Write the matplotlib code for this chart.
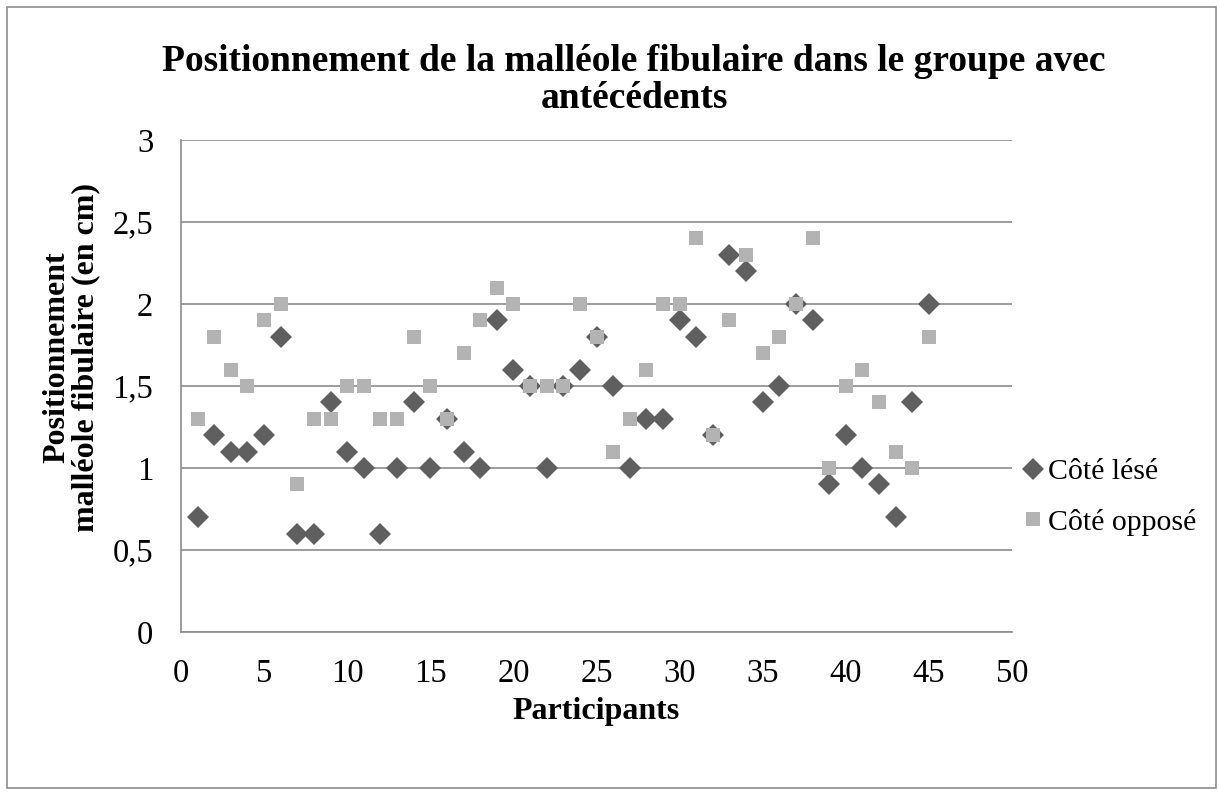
import matplotlib
matplotlib.use("Agg")
import matplotlib.pyplot as plt
from matplotlib.patches import Rectangle
from matplotlib.ticker import FuncFormatter

participants = list(range(1, 46))
cote_lese = [0.7, 1.2, 1.1, 1.1, 1.2, 1.8, 0.6, 0.6, 1.4, 1.1,
             1.0, 0.6, 1.0, 1.4, 1.0, 1.3, 1.1, 1.0, 1.9, 1.6,
             1.5, 1.0, 1.5, 1.6, 1.8, 1.5, 1.0, 1.3, 1.3, 1.9,
             1.8, 1.2, 2.3, 2.2, 1.4, 1.5, 2.0, 1.9, 0.9, 1.2,
             1.0, 0.9, 0.7, 1.4, 2.0]
cote_oppose = [1.3, 1.8, 1.6, 1.5, 1.9, 2.0, 0.9, 1.3, 1.3, 1.5,
               1.5, 1.3, 1.3, 1.8, 1.5, 1.3, 1.7, 1.9, 2.1, 2.0,
               1.5, 1.5, 1.5, 2.0, 1.8, 1.1, 1.3, 1.6, 2.0, 2.0,
               2.4, 1.2, 1.9, 2.3, 1.7, 1.8, 2.0, 2.4, 1.0, 1.5,
               1.6, 1.4, 1.1, 1.0, 1.8]
x_ticks = [0, 5, 10, 15, 20, 25, 30, 35, 40, 45, 50]
y_ticks = [0, 0.5, 1, 1.5, 2, 2.5, 3]

plt.rcParams['font.family'] = ['Liberation Serif', 'DejaVu Serif']

W, H = 1219, 792
fig = plt.figure(figsize=(W / 100, H / 100), dpi=100)
ax = fig.add_axes([181 / W, 1 - 632 / H, (1012 - 181) / W, (632 - 140) / H])

fig.patches.append(Rectangle((7 / W, 4 / H), (1216 - 7) / W, (788 - 7) / H,
                             transform=fig.transFigure, fill=False,
                             edgecolor='#8c8c8c', linewidth=1.2))

ax.plot(participants, cote_lese, linestyle='none', marker='D', markersize=11,
        color='#5f5f5f', markeredgewidth=0, label='Côté lésé', zorder=3)
ax.plot(participants, cote_oppose, linestyle='none', marker='s', markersize=10.5,
        color='#b3b3b3', markeredgewidth=0, label='Côté opposé', zorder=4)

ax.set_xlim(0, 50)
ax.set_ylim(0, 3)
ax.set_xticks(x_ticks)
ax.set_yticks(y_ticks)
ax.yaxis.set_major_formatter(FuncFormatter(lambda v, p: ('%g' % v).replace('.', ',')))
ax.tick_params(length=0, labelsize=23.5)
ax.tick_params(axis='x', pad=19)
ax.tick_params(axis='y', pad=20)
ax.grid(axis='y', color='#8c8c8c', linewidth=1.2)
ax.set_axisbelow(True)
for s in ['top', 'right']:
    ax.spines[s].set_visible(False)
for s in ['left', 'bottom']:
    ax.spines[s].set_color('#8c8c8c')
    ax.spines[s].set_linewidth(1.2)

ax.set_xlabel('Participants', fontsize=23, fontweight='bold', labelpad=6)
fig.text(71 / W, 1 - 357 / H, 'Positionnement\nmalléole fibulaire (en cm)',
         rotation=90, ha='center', va='center', fontsize=23,
         fontweight='bold', linespacing=1.0, multialignment='center')
fig.text(634 / W, 1 - 80 / H, 'Positionnement de la malléole fibulaire dans le groupe avec\nantécédents',
         ha='center', va='center', fontsize=27, fontweight='bold', linespacing=1.05)

fig.legend(loc='center left', bbox_to_anchor=(1018 / W, 1 - 497 / H), frameon=False,
           fontsize=21.5, handletextpad=0.0, handlelength=1.0,
           labelspacing=0.8, borderaxespad=0.0, borderpad=0.0)

fig.savefig('out.png', dpi=100)
